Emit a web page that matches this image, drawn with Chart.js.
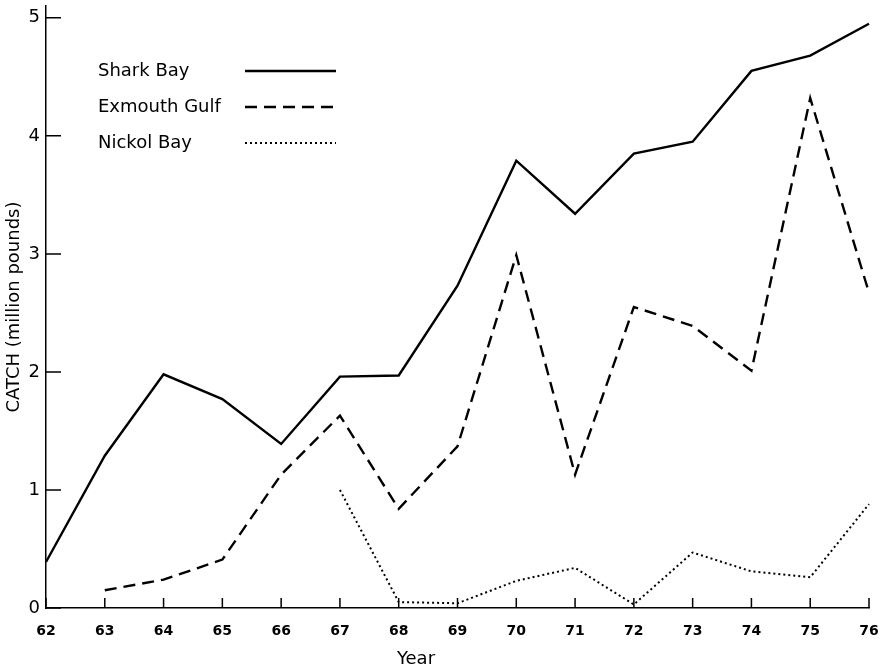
<!DOCTYPE html>
<html>
<head>
<meta charset="utf-8">
<title>Prawn catch, Western Australia</title>
<script src="https://cdn.jsdelivr.net/npm/chart.js@4.4.0/dist/chart.umd.min.js"></script>
<style>
  html, body { margin: 0; padding: 0; background: #fff; }
  #wrap { width: 894px; height: 672px; }
</style>
</head>
<body>
<div id="wrap"><canvas id="c" width="894" height="672"></canvas></div>
<script>
// Catch by fishery, million pounds
const years = ['62', '63', '64', '65', '66', '67', '68', '69', '70', '71', '72', '73', '74', '75', '76'];
const sharkBay = [0.39, 1.29, 1.98, 1.77, 1.39, 1.96, 1.97, 2.73, 3.79, 3.34, 3.85, 3.95, 4.55, 4.68, 4.95];
const exmouthGulf = [null, 0.15, 0.24, 0.41, 1.13, 1.63, 0.84, 1.37, 2.99, 1.13, 2.55, 2.39, 2.01, 4.32, 2.67];
const nickolBay = [null, null, null, null, null, 1.00, 0.05, 0.04, 0.23, 0.34, 0.03, 0.47, 0.31, 0.26, 0.88];
const yTicks = [0, 1, 2, 3, 4, 5];

const seriesNames = ['Shark Bay', 'Exmouth Gulf', 'Nickol Bay'];
const xTitle = 'Year';
const FONT = "'DejaVu Sans', 'Liberation Sans', sans-serif";

// Tick marks point into the plot; the key sits in the upper left with text before the line sample
const figureDecor = {
  id: 'figureDecor',
  afterDatasetsDraw(chart) {
    const ctx = chart.ctx;
    const xs = chart.scales.x, ys = chart.scales.y;
    const area = chart.chartArea;
    ctx.save();
    ctx.strokeStyle = '#000';
    ctx.lineWidth = 1.5;
    ctx.setLineDash([]);
    ctx.beginPath();
    xs.ticks.forEach((t, i) => {
      const px = xs.getPixelForTick(i);
      ctx.moveTo(px, area.bottom);
      ctx.lineTo(px, area.bottom - 10);
    });
    yTicks.forEach(v => {
      const py = ys.getPixelForValue(v);
      ctx.moveTo(area.left, py);
      ctx.lineTo(area.left + 15, py);
    });
    ctx.stroke();

    // key
    const rows = [71, 107, 143];
    ctx.font = '18px ' + FONT;
    ctx.fillStyle = '#000';
    ctx.textBaseline = 'middle';
    ctx.textAlign = 'left';
    chart.data.datasets.forEach((ds, i) => {
      const y = rows[i];
      ctx.fillText(ds.label, 98, y);
      ctx.beginPath();
      ctx.lineWidth = ds.borderWidth;
      ctx.setLineDash(ds.borderDash || []);
      ctx.moveTo(245, y);
      ctx.lineTo(336, y);
      ctx.stroke();
    });

    // x-axis title, set a little left of the axis centre
    ctx.setLineDash([]);
    ctx.font = '18px ' + FONT;
    ctx.textAlign = 'center';
    ctx.fillText(xTitle, 416, 659);
    ctx.restore();
  }
};

new Chart(document.getElementById('c'), {
  type: 'line',
  data: {
    labels: years,
    datasets: [
      { label: seriesNames[0], data: sharkBay, borderColor: '#000', borderWidth: 2.4, borderDash: [] },
      { label: seriesNames[1], data: exmouthGulf, borderColor: '#000', borderWidth: 2.4, borderDash: [12, 7] },
      { label: seriesNames[2], data: nickolBay, borderColor: '#000', borderWidth: 2, borderDash: [2, 3] }
    ]
  },
  options: {
    responsive: false,
    devicePixelRatio: 1,
    animation: false,
    layout: { padding: { left: 0, right: 25, top: 6, bottom: 0 } },
    elements: { point: { radius: 0 }, line: { tension: 0, fill: false } },
    plugins: { legend: { display: false }, tooltip: { enabled: false } },
    scales: {
      x: {
        type: 'category',
        offset: false,
        grid: { display: false, drawTicks: false },
        border: { display: true, color: '#000', width: 1.5 },
        ticks: { color: '#000', padding: 15, maxRotation: 0, autoSkip: false, font: { family: FONT, size: 14, weight: 'bold' } },
        afterFit(scale) { scale.height = 64; scale.paddingLeft = 0; scale.paddingRight = 0; }
      },
      y: {
        min: 0,
        max: 5.1,
        grid: { display: false, drawTicks: false },
        border: { display: true, color: '#000', width: 1.5 },
        ticks: { color: '#000', padding: 6, stepSize: 1, font: { family: FONT, size: 18 } },
        afterBuildTicks(scale) { scale.ticks = yTicks.map(v => ({ value: v })); },
        title: { display: true, text: 'CATCH (million pounds)', color: '#000', padding: { top: 4, bottom: 0 }, font: { family: FONT, size: 18 } },
        afterFit(scale) { scale.width = 46; scale.paddingTop = 0; scale.paddingBottom = 0; }
      }
    }
  },
  plugins: [figureDecor]
});
</script>
</body>
</html>
